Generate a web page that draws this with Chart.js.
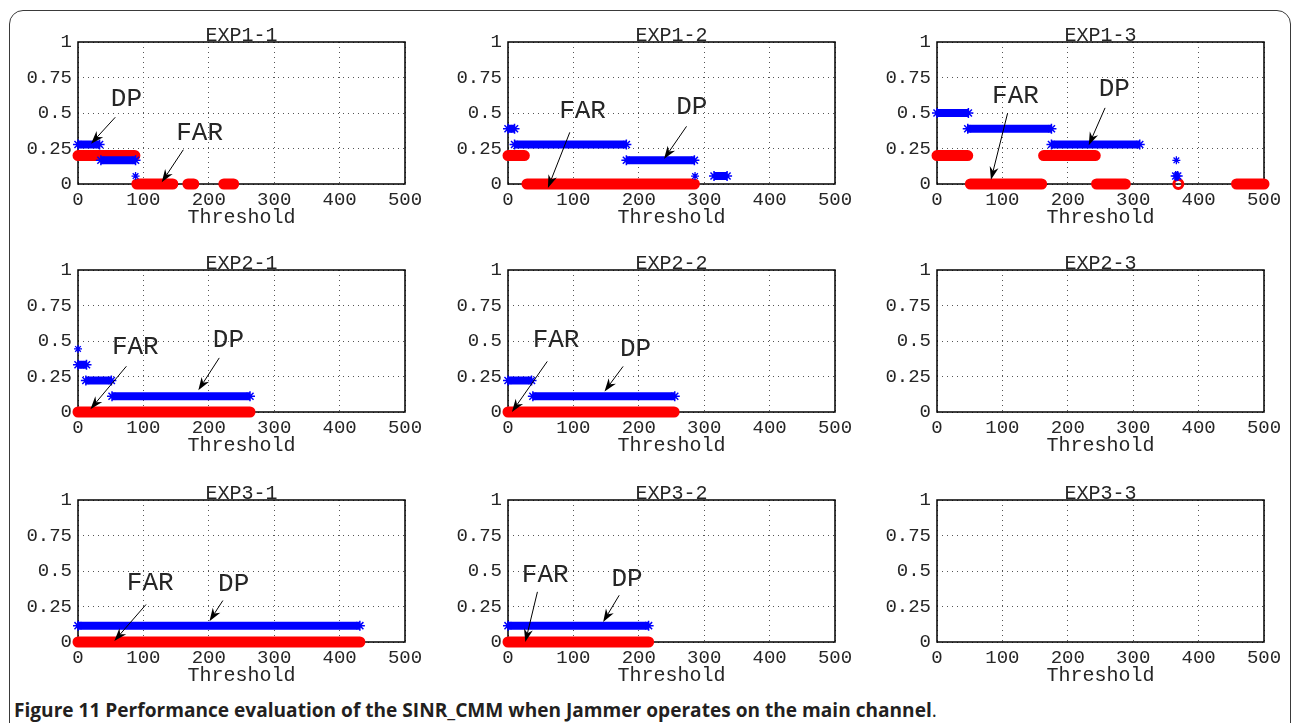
<!DOCTYPE html>
<html><head><meta charset="utf-8">
<script src="https://cdn.jsdelivr.net/npm/chart.js@4.4.0/dist/chart.umd.min.js"></script>
<style>
html,body{margin:0;padding:0;background:#fff;width:1292px;height:723px;overflow:hidden;}
#frame{position:absolute;left:9px;top:10px;width:1282px;height:800px;border:1.5px solid #3a3a3a;border-radius:14px;box-sizing:border-box;}
.panel{position:absolute;}
#caption{position:absolute;left:14px;top:698px;line-height:24px;font-family:'Open Sans',sans-serif;font-size:18px;color:#231f20;white-space:nowrap;}
#caption b{font-weight:700;}
</style></head><body>
<div id="frame"></div>
<div id="caption"><b>Figure 11 Performance evaluation of the SINR_CMM when Jammer operates on the main channel</b>.</div>
<script>
// ---- axes ----
const xTicks = [0, 100, 200, 300, 400, 500];
const xTickLabels = ['0', '100', '200', '300', '400', '500'];
const yTicks = [0, 0.25, 0.5, 0.75, 1];
const yTickLabels = ['0', '0.25', '0.5', '0.75', '1'];
const xAxisTitle = 'Threshold';
const panelTitles = ['EXP1-1','EXP1-2','EXP1-3','EXP2-1','EXP2-2','EXP2-3','EXP3-1','EXP3-2','EXP3-3'];

// ---- data: runs are [threshold from, threshold to, value]; singles are [threshold, value] ----
const dp_EXP1_1 = [[0,33,0.278],[35,88,0.167]];
const dpSingles_EXP1_1 = [[88,0.056]];
const far_EXP1_1 = [[0,87,0.2],[90,145,0],[168,177,0],[223,238,0]];
const farSingles_EXP1_1 = [];

const dp_EXP1_2 = [[0,10,0.389],[10,181,0.278],[181,285,0.167],[315,335,0.056]];
const dpSingles_EXP1_2 = [[286,0.056]];
const far_EXP1_2 = [[0,25,0.2],[29,285,0]];
const farSingles_EXP1_2 = [];

const dp_EXP1_3 = [[0,48,0.5],[47,175,0.389],[175,310,0.278],[365,368,0.056]];
const dpSingles_EXP1_3 = [[366,0.167]];
const far_EXP1_3 = [[0,47,0.2],[51,160,0],[163,242,0.2],[244,288,0],[458,500,0]];
const farSingles_EXP1_3 = [[369,0]];

const dp_EXP2_1 = [[0,13,0.333],[12,51,0.222],[52,263,0.111]];
const dpSingles_EXP2_1 = [[0,0.444]];
const far_EXP2_1 = [[0,263,0]];
const farSingles_EXP2_1 = [];

const dp_EXP2_2 = [[0,36,0.222],[38,255,0.111]];
const dpSingles_EXP2_2 = [];
const far_EXP2_2 = [[0,254,0]];
const farSingles_EXP2_2 = [];

const dp_EXP2_3 = [];
const dpSingles_EXP2_3 = [];
const far_EXP2_3 = [];
const farSingles_EXP2_3 = [];

const dp_EXP3_1 = [[0,431,0.115]];
const dpSingles_EXP3_1 = [];
const far_EXP3_1 = [[0,431,0]];
const farSingles_EXP3_1 = [];

const dp_EXP3_2 = [[0,215,0.115]];
const dpSingles_EXP3_2 = [];
const far_EXP3_2 = [[0,215,0]];
const farSingles_EXP3_2 = [];

const dp_EXP3_3 = [];
const dpSingles_EXP3_3 = [];
const far_EXP3_3 = [];
const farSingles_EXP3_3 = [];

// ---- annotations (text anchor and arrow tail/head in data units) ----
const notes_EXP1_1 = [
  {label:'DP',  at:[74,0.6],    tail:[57,0.47],   head:[20,0.284]},
  {label:'FAR', at:[186,0.355], tail:[161,0.241], head:[128,0.012]}
];
const notes_EXP1_2 = [
  {label:'FAR', at:[114,0.516], tail:[94.5,0.364], head:[61,-0.028]},
  {label:'DP',  at:[281,0.54],  tail:[273,0.406],  head:[238.5,0.176]}
];
const notes_EXP1_3 = [
  {label:'FAR', at:[120,0.619], tail:[108,0.5],   head:[82.5,0.03]},
  {label:'DP',  at:[271,0.666], tail:[257,0.536], head:[232,0.273]}
];
const notes_EXP2_1 = [
  {label:'FAR', at:[87.6,0.456], tail:[74,0.322],  head:[19,0.02]},
  {label:'DP',  at:[230,0.504],  tail:[216,0.381], head:[184,0.153]}
];
const notes_EXP2_2 = [
  {label:'FAR', at:[73.5,0.503], tail:[60,0.356],  head:[6,0]},
  {label:'DP',  at:[195,0.445],  tail:[176,0.321], head:[147.6,0.145]}
];
const notes_EXP3_1 = [
  {label:'FAR', at:[110.5,0.416], tail:[104,0.264],  head:[55.5,0.007]},
  {label:'DP',  at:[238,0.411],   tail:[221.5,0.292], head:[201,0.147]}
];
const notes_EXP3_2 = [
  {label:'FAR', at:[57,0.47],  tail:[45,0.353],  head:[26.5,0]},
  {label:'DP',  at:[182,0.44], tail:[170,0.329], head:[145.5,0.141]}
];

const panels = [
  {dp:dp_EXP1_1, dpS:dpSingles_EXP1_1, far:far_EXP1_1, farS:farSingles_EXP1_1, notes:notes_EXP1_1},
  {dp:dp_EXP1_2, dpS:dpSingles_EXP1_2, far:far_EXP1_2, farS:farSingles_EXP1_2, notes:notes_EXP1_2},
  {dp:dp_EXP1_3, dpS:dpSingles_EXP1_3, far:far_EXP1_3, farS:farSingles_EXP1_3, notes:notes_EXP1_3},
  {dp:dp_EXP2_1, dpS:dpSingles_EXP2_1, far:far_EXP2_1, farS:farSingles_EXP2_1, notes:notes_EXP2_1},
  {dp:dp_EXP2_2, dpS:dpSingles_EXP2_2, far:far_EXP2_2, farS:farSingles_EXP2_2, notes:notes_EXP2_2},
  {dp:dp_EXP2_3, dpS:dpSingles_EXP2_3, far:far_EXP2_3, farS:farSingles_EXP2_3, notes:[]},
  {dp:dp_EXP3_1, dpS:dpSingles_EXP3_1, far:far_EXP3_1, farS:farSingles_EXP3_1, notes:notes_EXP3_1},
  {dp:dp_EXP3_2, dpS:dpSingles_EXP3_2, far:far_EXP3_2, farS:farSingles_EXP3_2, notes:notes_EXP3_2},
  {dp:dp_EXP3_3, dpS:dpSingles_EXP3_3, far:far_EXP3_3, farS:farSingles_EXP3_3, notes:[]}
];

// ---- layout ----
const colLeft = [78, 508, 937], rowTop = [42, 270, 500];
const PW = 327, PH = 142, PADL = 72, PADT = 32, PADR = 32, PADB = 58;
const MONO = "'Liberation Mono','DejaVu Sans Mono',monospace";
const TXT = '#262626';
const BLUE = '#0000ff', RED = '#ff0000';

function runsToPoints(runs){
  const pts = [];
  runs.forEach((r, i) => {
    if (i > 0) pts.push({x: r[0], y: null});
    pts.push({x: r[0], y: r[2]});
    pts.push({x: r[1], y: r[2]});
  });
  return pts;
}
function singlesToPoints(s){ return s.map(p => ({x: p[0], y: p[1]})); }

function drawArrow(ctx, x1, y1, x2, y2){
  const a = Math.atan2(y2 - y1, x2 - x1), c = Math.cos(a), s = Math.sin(a);
  const L = 13, W = 4.5, N = 9;
  ctx.beginPath(); ctx.moveTo(x1, y1); ctx.lineTo(x2 - N*c, y2 - N*s); ctx.stroke();
  ctx.beginPath();
  ctx.moveTo(x2, y2);
  ctx.lineTo(x2 - L*c + W*s, y2 - L*s - W*c);
  ctx.lineTo(x2 - N*c, y2 - N*s);
  ctx.lineTo(x2 - L*c - W*s, y2 - L*s + W*c);
  ctx.closePath(); ctx.fill();
}

const decor = {
  id: 'decor',
  beforeDatasetsDraw(chart){
    const {ctx, chartArea: a} = chart;
    ctx.save();
    ctx.strokeStyle = '#000'; ctx.lineWidth = 1.5;
    ctx.strokeRect(a.left, a.top, a.right - a.left, a.bottom - a.top);
    ctx.restore();
  },
  afterDatasetsDraw(chart, args, opts){
    const {ctx, chartArea: a, scales: {x, y}} = chart;
    ctx.save();
    ctx.fillStyle = TXT; ctx.font = '20px ' + MONO;
    ctx.textAlign = 'center'; ctx.textBaseline = 'alphabetic';
    ctx.fillText(opts.title, (a.left + a.right) / 2, a.top - 1);
    ctx.strokeStyle = '#000'; ctx.fillStyle = '#000'; ctx.lineWidth = 1;
    (opts.notes || []).forEach(n => {
      drawArrow(ctx, x.getPixelForValue(n.tail[0]), y.getPixelForValue(n.tail[1]),
                     x.getPixelForValue(n.head[0]), y.getPixelForValue(n.head[1]));
    });
    ctx.fillStyle = TXT; ctx.font = '26px ' + MONO; ctx.textBaseline = 'middle';
    (opts.notes || []).forEach(n => {
      ctx.fillText(n.label, x.getPixelForValue(n.at[0]), y.getPixelForValue(n.at[1]));
    });
    ctx.restore();
  }
};

panels.forEach((p, i) => {
  const col = i % 3, row = Math.floor(i / 3);
  const div = document.createElement('div');
  div.className = 'panel';
  div.style.left = (colLeft[col] - PADL) + 'px';
  div.style.top = (rowTop[row] - PADT) + 'px';
  const cv = document.createElement('canvas');
  cv.width = PW + PADL + PADR; cv.height = PH + PADT + PADB;
  cv.style.width = cv.width + 'px'; cv.style.height = cv.height + 'px';
  div.appendChild(cv); document.body.appendChild(div);

  new Chart(cv, {
    type: 'line',
    data: {
      datasets: [
        {label:'DP', data: runsToPoints(p.dp), borderColor: BLUE, backgroundColor: BLUE, borderWidth: 8,
         borderCapStyle: 'butt', spanGaps: false, clip: false,
         pointStyle: 'star', pointRadius: 5, pointBorderWidth: 1.5, pointBorderColor: BLUE},
        {label:'DP single', data: singlesToPoints(p.dpS), showLine: false, clip: false,
         pointStyle: 'star', pointRadius: 4, pointBorderWidth: 1.3, pointBorderColor: BLUE, pointBackgroundColor: BLUE},
        {label:'FAR', data: runsToPoints(p.far), borderColor: RED, backgroundColor: RED, borderWidth: 11,
         borderCapStyle: 'round', spanGaps: false, clip: false, pointRadius: 0},
        {label:'FAR single', data: singlesToPoints(p.farS), showLine: false, clip: false,
         pointStyle: 'circle', pointRadius: 4.5, pointBorderWidth: 3, pointBorderColor: RED,
         pointBackgroundColor: 'rgba(0,0,0,0)'}
      ]
    },
    options: {
      responsive: false, animation: false, events: [],
      layout: {padding: {left: 0, top: PADT, right: PADR, bottom: 0}},
      plugins: {legend: {display: false}, tooltip: {enabled: false}, title: {display: false},
                decor: {title: panelTitles[i], notes: p.notes}},
      scales: {
        x: {type: 'linear', min: xTicks[0], max: xTicks[xTicks.length - 1],
            afterBuildTicks: s => { s.ticks = xTicks.map(v => ({value: v})); },
            afterFit: s => { s.height = PADB; },
            ticks: {font: {family: MONO, size: 19}, color: TXT, padding: 5, maxRotation: 0, autoSkip: false,
                    callback: (v, k) => xTickLabels[k]},
            grid: {color: '#555', lineWidth: 1, drawTicks: false},
            border: {display: false, dash: [1, 4]},
            title: {display: true, text: xAxisTitle, font: {family: MONO, size: 20}, color: TXT,
                    padding: {top: 0, bottom: 12}}},
        y: {type: 'linear', min: yTicks[0], max: yTicks[yTicks.length - 1],
            afterBuildTicks: s => { s.ticks = yTicks.map(v => ({value: v})); },
            afterFit: s => { s.width = PADL; },
            ticks: {font: {family: MONO, size: 19}, color: TXT, padding: 6, autoSkip: false,
                    callback: (v, k) => yTickLabels[k]},
            grid: {color: '#555', lineWidth: 1, drawTicks: false},
            border: {display: false, dash: [1, 4]}}
      }
    },
    plugins: [decor]
  });
});

// fit caption width to the reference line length
(function(){
  const cap = document.getElementById('caption');
  const target = 923;
  const w = cap.getBoundingClientRect().width;
  if (w > 0) cap.style.fontSize = (18 * target / w).toFixed(2) + 'px';
})();
</script>
</body></html>
